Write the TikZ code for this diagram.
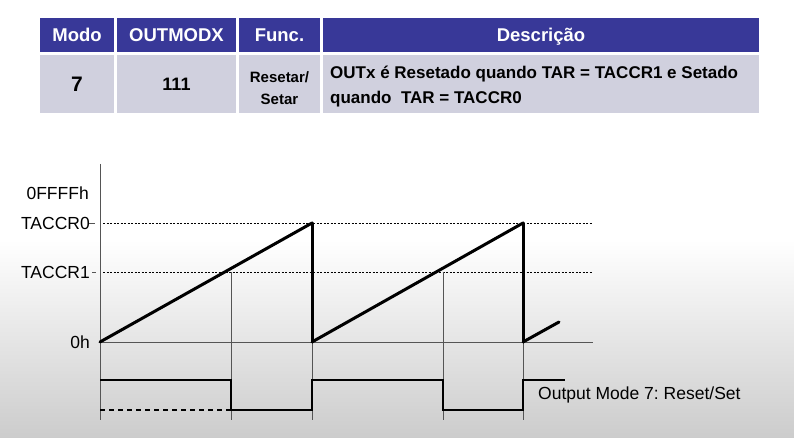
\documentclass[tikz,border=0pt]{standalone}
\usepackage{fontspec}
\setmainfont{Liberation Sans}
\usetikzlibrary{calc}
\definecolor{headblue}{RGB}{56,56,152}
\definecolor{cellgray}{RGB}{208,208,222}
\definecolor{bggray}{RGB}{204,204,204}
\definecolor{axisgray}{RGB}{85,85,85}
\frenchspacing
\begin{document}
\begin{tikzpicture}[x=1pt,y=-1pt]
        \tikzset{head/.style = {fill=headblue, text=white, inner sep=0pt, minimum height=34pt, text height=13.3pt, text depth=0pt, font=\bfseries\fontsize{18.5}{20}\selectfont}}
        \tikzset{cell/.style = {fill=cellgray, inner sep=0pt, minimum height=58pt, font=\bfseries}}
        \tikzset{lbl/.style = {anchor=east, inner sep=0pt, font=\fontsize{17.5}{20}\selectfont}}
        \tikzset{axis/.style = {-, draw=axisgray, line width=1pt}}
        \tikzset{grid/.style = {-, dash pattern=on 2pt off 1.5pt, line width=0.8pt}}
        \tikzset{ramp/.style = {-, line width=3pt, line cap=round, line join=round}}
        \tikzset{wave/.style = {-, line width=2pt, line join=miter}}
        \useasboundingbox (0,0) rectangle (794,438);
        \fill[white] (0,0) rectangle (794,241);
        \shade[top color=white, bottom color=bggray] (0,240) rectangle (794,438);
        \node[head, minimum width=74pt] (hmodo) at (77,35) {Modo};
        \node[head, minimum width=119pt] (hout) at (176.5,35) {OUTMODX};
        \node[head, minimum width=81pt] (hfunc) at (279.5,35) {Func.};
        \node[head, minimum width=436pt] (hdesc) at (541,35) {Descrição};
        \node[cell, minimum width=74pt, font=\bfseries\fontsize{21}{24}\selectfont] (modo) at (77,84) {7};
        \node[cell, minimum width=119pt, font=\bfseries\fontsize{18}{20}\selectfont] (outmod) at (176.5,84) {111};
        \node[cell, minimum width=81pt] (func) at (279.5,84) {};
        \node[anchor=north, inner sep=0pt, align=center, font=\bfseries\fontsize{15}{22}\selectfont] (functxt) at (279.5,71) {Resetar/\\Setar};
        \node[cell, minimum width=436pt] (desc) at (541,84) {};
        \node[anchor=north west, inner sep=0pt, align=left, font=\bfseries\fontsize{17}{25}\selectfont] (desctxt) at (330,66) {OUTx é Resetado quando TAR = TACCR1 e Setado\\quando\ \ TAR = TACCR0};
        \node[lbl] (fffh) at (89,193) {0FFFFh};
        \node[lbl] (taccr0) at (90,223) {TACCR0};
        \node[lbl] (taccr1) at (90,272) {TACCR1};
        \node[lbl] (zero) at (90,342) {0h};
        \coordinate (t0) at (95,223);
        \coordinate (t1) at (96,272);
        \coordinate (ytop) at (100,164);
        \coordinate (o1) at (100,342);
        \coordinate (xend) at (593,342);
        \coordinate (g0a) at (103,223);
        \coordinate (g0b) at (593,223);
        \coordinate (g1a) at (103,272);
        \coordinate (g1b) at (593,272);
        \coordinate (p1) at (312,223);
        \coordinate (o2) at (312,342);
        \coordinate (p2) at (523,223);
        \coordinate (o3) at (523,342);
        \coordinate (e3) at (559,322);
        \coordinate (c1) at (231,272);
        \coordinate (c2) at (443,272);
        \coordinate (b0) at (100,420);
        \coordinate (b1) at (231,420);
        \coordinate (b2) at (312,420);
        \coordinate (b3) at (443,420);
        \coordinate (b4) at (523,420);
        \coordinate (h0) at (100,380);
        \coordinate (h1) at (231,380);
        \coordinate (l1) at (231,410);
        \coordinate (l2) at (312,410);
        \coordinate (h2) at (312,380);
        \coordinate (h3) at (443,380);
        \coordinate (l3) at (443,410);
        \coordinate (l4) at (523,410);
        \coordinate (h4) at (523,380);
        \coordinate (h5) at (565,380);
        \coordinate (d0) at (100,410);
        \draw[axis, line width=0.6pt] ([xshift=-1pt]taccr0.east) to (t0);
        \draw[axis, line width=0.6pt] ([xshift=2pt]taccr1.east) to (t1);
        \draw[grid] (g0a) to (g0b);
        \draw[grid] (g1a) to (g1b);
        \draw[axis] (ytop) to (b0);
        \draw[axis] (o1) to (xend);
        \draw[axis] (c1) to (b1);
        \draw[axis] (c2) to (b3);
        \draw[axis] (o2) to (b2);
        \draw[axis] (o3) to (b4);
        \draw[ramp] (o1) to (p1);
        \draw[ramp] (p1) to (o2);
        \draw[ramp] (o2) to (p2);
        \draw[ramp] (p2) to (o3);
        \draw[ramp] (o3) to (e3);
        \draw[wave] (h0) -- (h1) -- (l1) -- (l2) -- (h2) -- (h3) -- (l3) -- (l4) -- (h4) -- (h5);
        \draw[wave, dash pattern=on 5pt off 4pt] (d0) to (l1);
        \node[anchor=west, inner sep=0pt, font=\fontsize{17.5}{20}\selectfont] (mode) at (538,395) {Output Mode 7: Reset/Set};
      \end{tikzpicture}
\end{document}
